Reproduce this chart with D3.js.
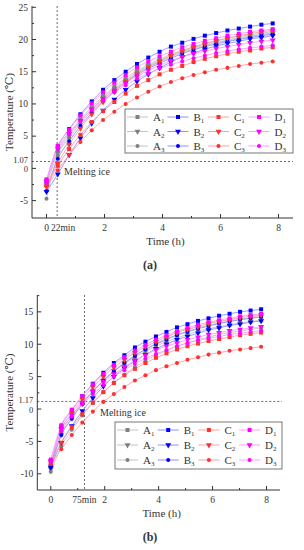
<!DOCTYPE html>
<html>
<head>
<meta charset="utf-8">
<script src="https://cdn.jsdelivr.net/npm/d3@7"></script>
<style>
  body { margin: 0; background: #fff; }
  svg { display: block; }
  svg text { font-family: 'Liberation Serif', 'DejaVu Serif', serif; fill: #333; }
</style>
</head>
<body>
<div id="chart"></div>
<script>
// sampling times (h)
const times = [0, 0.39, 0.78, 1.17, 1.56, 1.95, 2.34, 2.73, 3.12, 3.51, 3.9, 4.29, 4.68, 5.07, 5.46, 5.85, 6.24, 6.63, 7.02, 7.41, 7.8];

const groups = ["A", "B", "C", "D"];
const markerColors = ["#7f7f7f", "#0000ff", "#ff3030", "#ff00ff"];
const lineColors = ["#c4c4c4", "#9090ff", "#ffa0a0", "#ff9cff"];

// panel (a)
const aA1 = [-2.5, 2.7, 5.3, 7.6, 9.5, 11.2, 12.7, 14.0, 15.1, 16.1, 16.9, 17.7, 18.3, 18.9, 19.4, 19.8, 20.2, 20.5, 20.7, 21.0, 21.2];
const aA2 = [-2.8, 2.4, 5.0, 7.3, 9.2, 11.0, 12.4, 13.7, 14.9, 15.9, 16.7, 17.5, 18.1, 18.7, 19.1, 19.6, 19.9, 20.3, 20.5, 20.8, 21.0];
const aA3 = [-4.7, 2.0, 4.7, 7.0, 8.9, 10.7, 12.2, 13.5, 14.7, 15.7, 16.5, 17.3, 18.0, 18.5, 19.0, 19.5, 19.8, 20.1, 20.4, 20.7, 20.9];
const aB1 = [-2.0, 3.4, 6.1, 8.4, 10.4, 12.2, 13.7, 15.0, 16.2, 17.2, 18.1, 18.9, 19.5, 20.1, 20.6, 21.0, 21.4, 21.7, 22.0, 22.3, 22.5];
const aB2 = [-3.6, -0.9, 2.1, 4.7, 7.0, 9.0, 10.7, 12.2, 13.5, 14.6, 15.6, 16.5, 17.3, 17.9, 18.5, 19.0, 19.4, 19.7, 20.1, 20.3, 20.6];
const aB3 = [-3.5, 1.5, 4.2, 6.6, 8.6, 10.4, 11.9, 13.3, 14.5, 15.5, 16.3, 17.1, 17.8, 18.4, 18.9, 19.3, 19.7, 20.0, 20.3, 20.6, 20.8];
const aC1 = [-2.6, 0.4, 3.0, 5.2, 7.2, 8.9, 10.3, 11.6, 12.8, 13.7, 14.6, 15.3, 15.9, 16.5, 17.0, 17.4, 17.8, 18.1, 18.3, 18.6, 18.8];
const aC2 = [-2.8, 0.8, 3.7, 6.2, 8.4, 10.3, 11.9, 13.4, 14.6, 15.7, 16.6, 17.5, 18.2, 18.8, 19.3, 19.8, 20.2, 20.6, 20.9, 21.2, 21.4];
const aC3 = [-2.8, -0.3, 2.1, 4.1, 5.9, 7.5, 8.8, 10.0, 11.0, 11.9, 12.7, 13.4, 14.0, 14.5, 14.9, 15.3, 15.6, 15.9, 16.2, 16.4, 16.6];
const aD1 = [-1.7, 3.5, 6.0, 8.2, 10.1, 11.8, 13.3, 14.5, 15.7, 16.6, 17.4, 18.1, 18.8, 19.3, 19.8, 20.2, 20.6, 20.9, 21.2, 21.4, 21.6];
const aD2 = [-2.0, 3.0, 5.4, 7.4, 9.2, 10.8, 12.1, 13.3, 14.3, 15.2, 16.0, 16.7, 17.3, 17.8, 18.2, 18.6, 18.9, 19.2, 19.5, 19.7, 19.9];
const aD3 = [-2.2, 3.3, 5.5, 7.4, 9.1, 10.6, 11.8, 12.9, 13.9, 14.7, 15.5, 16.1, 16.6, 17.1, 17.5, 17.9, 18.2, 18.5, 18.7, 18.9, 19.1];

// panel (b)
const bA1 = [-8.6, -3.5, -1.1, 1.0, 2.8, 4.4, 5.8, 7.0, 8.0, 8.9, 9.7, 10.4, 11.0, 11.5, 12.0, 12.4, 12.7, 13.0, 13.3, 13.5, 13.7];
const bA2 = [-9.3, -4.0, -1.4, 0.8, 2.7, 4.4, 5.9, 7.1, 8.3, 9.2, 10.1, 10.8, 11.5, 12.0, 12.5, 12.9, 13.3, 13.6, 13.8, 14.1, 14.3];
const bA3 = [-9.7, -5.8, -3.2, -1.0, 0.9, 2.6, 4.1, 5.3, 6.5, 7.4, 8.3, 9.0, 9.7, 10.2, 10.7, 11.1, 11.5, 11.8, 12.0, 12.3, 12.5];
const bB1 = [-8.8, -2.7, -0.2, 2.0, 3.9, 5.6, 7.1, 8.3, 9.5, 10.4, 11.2, 11.9, 12.6, 13.1, 13.6, 14.0, 14.4, 14.7, 15.0, 15.2, 15.4];
const bB2 = [-9.0, -5.2, -2.6, -0.3, 1.7, 3.5, 5.0, 6.3, 7.4, 8.4, 9.3, 10.0, 10.7, 11.2, 11.7, 12.2, 12.5, 12.9, 13.1, 13.4, 13.6];
const bB3 = [-8.9, -4.0, -1.5, 0.8, 2.7, 4.4, 5.8, 7.1, 8.2, 9.2, 10.0, 10.7, 11.4, 11.9, 12.4, 12.8, 13.2, 13.5, 13.8, 14.0, 14.2];
const bC1 = [-8.4, -5.2, -2.8, -0.8, 1.0, 2.6, 4.0, 5.2, 6.2, 7.1, 7.9, 8.6, 9.2, 9.7, 10.1, 10.5, 10.8, 11.1, 11.4, 11.6, 11.8];
const bC2 = [-8.2, -3.1, -0.6, 1.5, 3.4, 5.0, 6.4, 7.6, 8.7, 9.6, 10.4, 11.1, 11.8, 12.3, 12.7, 13.2, 13.5, 13.8, 14.1, 14.3, 14.5];
const bC3 = [-8.5, -6.2, -4.0, -2.1, -0.4, 1.1, 2.3, 3.4, 4.4, 5.2, 6.0, 6.6, 7.1, 7.6, 8.0, 8.4, 8.7, 9.0, 9.2, 9.4, 9.6];
const bD1 = [-7.8, -2.5, -0.1, 2.0, 3.8, 5.4, 6.8, 8.0, 9.0, 9.9, 10.7, 11.4, 12.0, 12.5, 13.0, 13.4, 13.7, 14.0, 14.3, 14.5, 14.7];
const bD2 = [-8.0, -3.1, -0.9, 1.0, 2.7, 4.2, 5.4, 6.5, 7.5, 8.3, 9.1, 9.7, 10.2, 10.7, 11.1, 11.5, 11.8, 12.1, 12.3, 12.5, 12.7];
const bD3 = [-8.1, -3.4, -1.2, 0.7, 2.3, 3.7, 5.0, 6.0, 7.0, 7.8, 8.5, 9.1, 9.7, 10.2, 10.6, 10.9, 11.2, 11.5, 11.7, 11.9, 12.1];

const xTicks = [0, 2, 4, 6, 8];
const xMinorTicks = [1, 3, 5, 7];
const aYTicks = [-5, 0, 5, 10, 15, 20, 25];
const bYTicks = [-10, -5, 0, 5, 10, 15];
const aMelt = 1.07, aMeltTime = 22 / 60, aMeltLabel = "22min";
const bMelt = 1.17, bMeltTime = 75 / 60, bMeltLabel = "75min";

const FONT = "Liberation Serif, DejaVu Serif, serif";

const svg = d3.select("#chart").append("svg")
  .attr("width", 304)
  .attr("height", 550)
  .attr("font-family", FONT);

function symbolFor(i) {
  if (i === 0) return d3.symbol().type(d3.symbolSquare).size(16)();
  if (i === 1) return d3.symbol().type(d3.symbolTriangle).size(15)();
  return d3.symbol().type(d3.symbolCircle).size(13)();
}

function drawPanel(cfg) {
  const x = d3.scaleLinear().domain([-0.5, 8.5]).range(cfg.xr);
  const y = d3.scaleLinear().domain(cfg.yd).range(cfg.yr);
  const g = svg.append("g");
  const x0 = cfg.xr[0], yb = cfg.yr[0], yt = cfg.yr[1];

  // reference lines
  g.append("line")
    .attr("x1", x(cfg.meltTime)).attr("x2", x(cfg.meltTime))
    .attr("y1", yt).attr("y2", yb)
    .attr("stroke", "#444").attr("stroke-width", 0.8).attr("stroke-dasharray", "2,2");
  g.append("line")
    .attr("x1", x0).attr("x2", cfg.hEnd)
    .attr("y1", y(cfg.melt)).attr("y2", y(cfg.melt))
    .attr("stroke", "#444").attr("stroke-width", 0.8).attr("stroke-dasharray", "2,2");

  const line = d3.line()
    .x((d, i) => x(times[i]))
    .y(d => y(d))
    .curve(d3.curveMonotoneX);

  // series lines
  cfg.series.forEach((s, si) => {
    const gi = Math.floor(si / 3);
    g.append("path")
      .attr("d", line(s))
      .attr("fill", "none")
      .attr("stroke", lineColors[gi])
      .attr("stroke-width", 0.9);
  });
  // series markers
  cfg.series.forEach((s, si) => {
    const gi = Math.floor(si / 3), mi = si % 3;
    g.selectAll(null)
      .data(s)
      .enter().append("path")
      .attr("d", symbolFor(mi))
      .attr("transform", (d, i) => `translate(${x(times[i])},${y(d)})` + (mi === 1 ? " rotate(180)" : ""))
      .attr("fill", markerColors[gi]);
  });

  // axes
  g.append("line").attr("x1", x0).attr("x2", x0).attr("y1", yt).attr("y2", yb)
    .attr("stroke", "#333").attr("stroke-width", 1);
  g.append("line").attr("x1", x0).attr("x2", cfg.xr[1]).attr("y1", yb).attr("y2", yb)
    .attr("stroke", "#333").attr("stroke-width", 1);

  xTicks.forEach(t => {
    g.append("line").attr("x1", x(t)).attr("x2", x(t)).attr("y1", yb).attr("y2", yb - 4)
      .attr("stroke", "#333");
  });
  xMinorTicks.forEach(t => {
    g.append("line").attr("x1", x(t)).attr("x2", x(t)).attr("y1", yb).attr("y2", yb - 2)
      .attr("stroke", "#333");
  });
  g.selectAll(null).data(xTicks).enter().append("text")
    .attr("x", d => x(d)).attr("y", yb + 13)
    .attr("text-anchor", "middle").attr("font-size", 9.5)
    .attr("font-family", FONT)
    .text(d => d);
  g.append("text")
    .attr("x", x(cfg.meltTime) + cfg.meltDx).attr("y", yb + 13)
    .attr("text-anchor", "middle").attr("font-size", 9.5)
    .attr("font-family", FONT)
    .text(cfg.meltLabel);

  cfg.yTicks.forEach(v => {
    g.append("line").attr("x1", x0).attr("x2", x0 + 4).attr("y1", y(v)).attr("y2", y(v))
      .attr("stroke", "#333");
    g.append("line").attr("x1", x0).attr("x2", x0 + 2).attr("y1", y(v + 2.5)).attr("y2", y(v + 2.5))
      .attr("stroke", "#333");
  });
  g.selectAll(null).data(cfg.yTicks).enter().append("text")
    .attr("x", x0 - 4).attr("y", d => y(d) + (d === 0 ? 4 : 3.3))
    .attr("text-anchor", "end").attr("font-size", d => d === 0 ? 8.5 : 9.5)
    .attr("font-family", FONT)
    .text(d => d);
  g.append("text")
    .attr("x", x0 - 4).attr("y", y(cfg.melt) + 2)
    .attr("text-anchor", "end").attr("font-size", 8.5)
    .attr("font-family", FONT)
    .text(cfg.melt.toFixed(2));

  g.append("text")
    .attr("transform", `translate(13,${(yb + yt) / 2}) rotate(-90)`)
    .attr("text-anchor", "middle").attr("font-size", 11)
    .attr("font-family", FONT)
    .text("Temperature (℃)");
  g.append("text")
    .attr("x", (x0 + cfg.xr[1]) / 2 + 3).attr("y", yb + 27)
    .attr("text-anchor", "middle").attr("font-size", 11)
    .attr("font-family", FONT)
    .text("Time (h)");
  g.append("text")
    .attr("x", 150).attr("y", yb + 51)
    .attr("text-anchor", "middle").attr("font-size", 12).attr("font-weight", "bold")
    .attr("font-family", FONT)
    .text(cfg.label);

  g.append("text")
    .attr("x", cfg.meltText[0]).attr("y", cfg.meltText[1])
    .attr("font-size", 10)
    .attr("font-family", FONT)
    .text("Melting ice");

  // legend
  const lg = g.append("g");
  lg.append("rect")
    .attr("x", cfg.legend.x).attr("y", cfg.legend.y)
    .attr("width", cfg.legend.w).attr("height", cfg.legend.h)
    .attr("fill", "#fff").attr("stroke", "#555").attr("stroke-width", 0.8);
  for (let r = 0; r < 3; r++) {
    for (let c = 0; c < 4; c++) {
      const lx = cfg.legend.x + 2 + c * cfg.legend.colW;
      const ly = cfg.legend.y + 8 + r * cfg.legend.rowH;
      lg.append("line").attr("x1", lx).attr("x2", lx + 21).attr("y1", ly).attr("y2", ly)
        .attr("stroke", lineColors[c]).attr("stroke-width", 1);
      lg.append("path").attr("d", symbolFor(r))
        .attr("transform", `translate(${lx + 10.5},${ly})` + (r === 1 ? " rotate(180)" : ""))
        .attr("fill", markerColors[c]);
      const t = lg.append("text").attr("x", lx + 26).attr("y", ly + 4).attr("font-size", 11)
        .attr("font-family", FONT);
      t.append("tspan").text(groups[c]);
      t.append("tspan").attr("font-size", 7).attr("dy", 2).text(r + 1);
    }
  }
}

drawPanel({
  series: [aA1, aA2, aA3, aB1, aB2, aB3, aC1, aC2, aC3, aD1, aD2, aD3],
  xr: [32, 293], yr: [218, 6], yd: [-7.7, 25.2],
  yTicks: aYTicks, melt: aMelt, meltTime: aMeltTime, meltLabel: aMeltLabel, meltDx: 6,
  hEnd: 293, meltText: [64, 175], label: "(a)",
  legend: { x: 125, y: 109, w: 168, h: 44, colW: 40.5, rowH: 14.5 }
});

drawPanel({
  series: [bA1, bA2, bA3, bB1, bB2, bB3, bC1, bC2, bC3, bD1, bD2, bD3],
  xr: [37.3, 280], yr: [490, 295], yd: [-12.5, 17.6],
  yTicks: bYTicks, melt: bMelt, meltTime: bMeltTime, meltLabel: bMeltLabel, meltDx: 0,
  hEnd: 282, meltText: [100, 416], label: "(b)",
  legend: { x: 115, y: 422, w: 167, h: 47, colW: 40.7, rowH: 15 }
});
</script>
</body>
</html>
